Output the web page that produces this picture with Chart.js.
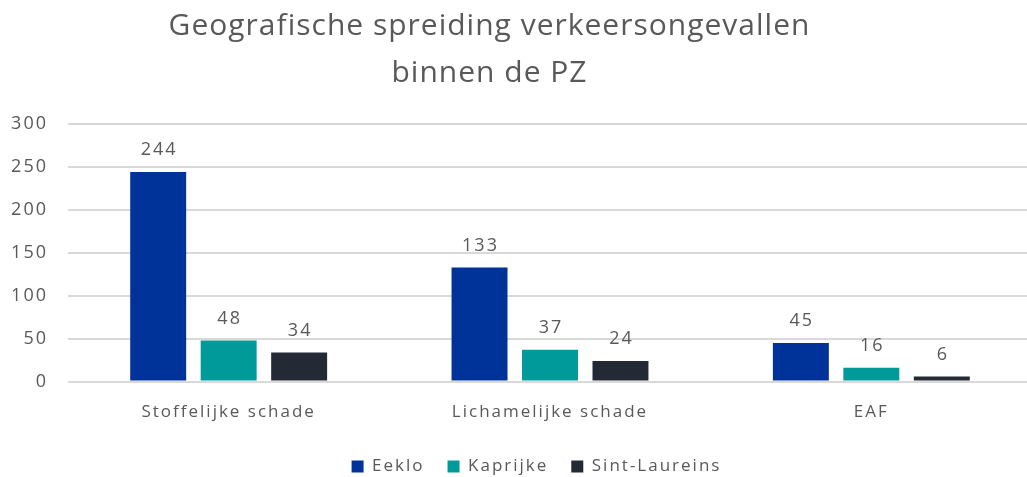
<!DOCTYPE html>
<html><head><meta charset="utf-8">
<script src="https://cdn.jsdelivr.net/npm/chart.js@4/dist/chart.umd.min.js"></script>
<style>html,body{margin:0;padding:0;background:#fff;}</style>
</head><body>
<canvas id="c" width="1027" height="477"></canvas>
<script>
const categories = ["Stoffelijke schade", "Lichamelijke schade", "EAF"];
const eeklo = [244, 133, 45];
const kaprijke = [48, 37, 16];
const sintLaureins = [34, 24, 6];
const yTicks = [0, 50, 100, 150, 200, 250, 300];
const titleLines = ["Geografische spreiding verkeersongevallen", "binnen de PZ"];

const FONT = "'Open Sans', sans-serif";
const GREY = "#595959";
const SPACING = "2px";
const TITLE_SPACING = "1px";

const spacingPlugin = {
  id: "spacing",
  afterInit(chart) {
    const tb = chart.titleBlock;
    if (tb) {
      const orig = tb.draw.bind(tb);
      tb.draw = function (area) {
        const ctx = chart.ctx;
        ctx.save();
        ctx.letterSpacing = TITLE_SPACING;
        orig(area);
        ctx.restore();
      };
    }
  },
  beforeUpdate(chart) { chart.ctx.letterSpacing = SPACING; },
  beforeLayout(chart) { chart.ctx.letterSpacing = SPACING; },
  afterLayout(chart) {
    const lg = chart.legend;
    const dx = 23, dy = -7;
    lg.left += dx; lg.right += dx; lg.top += dy; lg.bottom += dy;
    const tb = chart.titleBlock;
    tb.left -= 24; tb.right -= 24;
    const x = chart.scales.x;
    const extra = 5;
    x.right += extra; x.width += extra;
    x.configure();
    chart.chartArea.right += extra;
    chart.chartArea.width = chart.chartArea.right - chart.chartArea.left;
  },
  beforeDraw(chart) { chart.ctx.letterSpacing = SPACING; }
};

const dataLabels = {
  id: "dataLabels",
  afterDatasetsDraw(chart) {
    const ctx = chart.ctx;
    ctx.save();
    ctx.letterSpacing = SPACING;
    ctx.font = "18px " + FONT;
    ctx.fillStyle = GREY;
    ctx.textAlign = "center";
    ctx.textBaseline = "bottom";
    chart.data.datasets.forEach((ds, i) => {
      chart.getDatasetMeta(i).data.forEach((bar, j) => {
        ctx.fillText(ds.data[j], bar.x + 1, bar.y - 13);
      });
    });
    ctx.restore();
  }
};

new Chart(document.getElementById("c"), {
  type: "bar",
  data: {
    labels: categories,
    datasets: [
      { label: "Eeklo", data: eeklo, backgroundColor: "#003399" },
      { label: "Kaprijke", data: kaprijke, backgroundColor: "#009a9a" },
      { label: "Sint-Laureins", data: sintLaureins, backgroundColor: "#232a35" }
    ]
  },
  options: {
    responsive: false,
    animation: false,
    devicePixelRatio: 1,
    layout: { padding: { left: 0, right: 0, top: 3, bottom: -15 } },
    datasets: { bar: { categoryPercentage: 0.658, barPercentage: 0.794 } },
    plugins: {
      title: {
        display: true,
        text: titleLines,
        color: GREY,
        font: { family: FONT, size: 30, weight: "normal", lineHeight: 1.5667 },
        padding: { top: 0, bottom: 27 }
      },
      legend: {
        position: "bottom",
        labels: {
          color: GREY,
          font: { family: FONT, size: 17 },
          boxWidth: 12, boxHeight: 12,
          padding: 23
        }
      },
      tooltip: { enabled: false }
    },
    scales: {
      x: {
        grid: { display: false, drawTicks: false },
        border: { display: false },
        ticks: { color: GREY, font: { family: FONT, size: 17 }, padding: 20 }
      },
      y: {
        min: 0, max: 300,
        afterBuildTicks(axis) { axis.ticks = yTicks.map(v => ({ value: v })); },
        afterFit(axis) { axis.width = 68; },
        grid: { color: "#d9d9d9", lineWidth: 2, drawTicks: false },
        border: { display: false },
        ticks: { color: GREY, font: { family: FONT, size: 18 }, padding: 20 }
      }
    }
  },
  plugins: [spacingPlugin, dataLabels]
});
</script>
</body></html>
